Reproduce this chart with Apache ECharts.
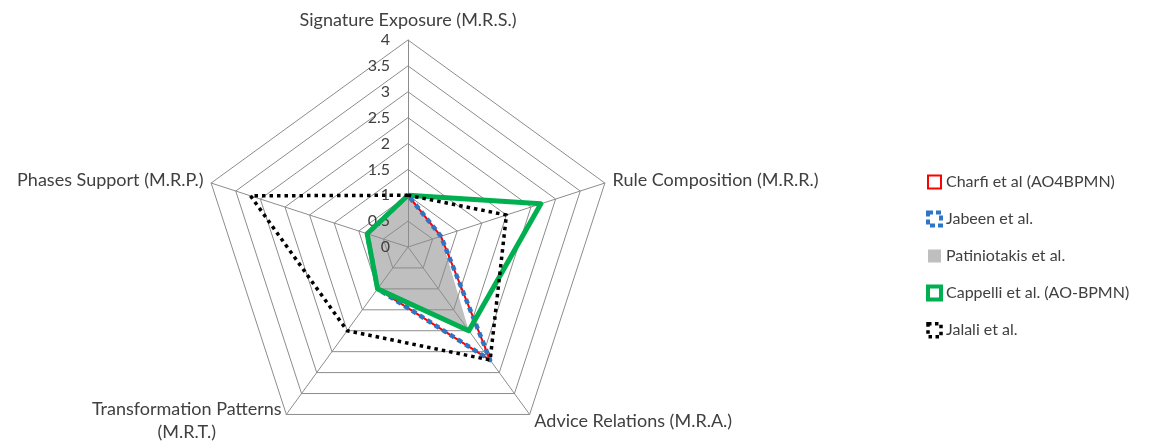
<!DOCTYPE html>
<html><head><meta charset="utf-8">
<script src="https://cdn.jsdelivr.net/npm/echarts@6/dist/echarts.min.js"></script>
<style>html,body{margin:0;padding:0;background:#fff}#c{width:1166px;height:446px}</style>
</head><body><div id="c"></div>
<script>
// values listed clockwise from the top, as in the picture
var indicators = ['Signature Exposure (M.R.S.)','Rule Composition (M.R.R.)','Advice Relations (M.R.A.)','Transformation Patterns\n(M.R.T.)','Phases Support (M.R.P.)'];
var seriesNames = ['Charfi et al (AO4BPMN)','Jabeen et al.','Patiniotakis et al.','Cappelli et al. (AO-BPMN)','Jalali et al.'];
var charfi = [1, 0.67, 2.7, 1, 0.83];
var jabeen = [1, 0.67, 2.7, 1, 0.83];
var patiniotakis = [1, 0.67, 2, 1, 0.83];
var cappelli = [1, 2.7, 2, 1, 0.83];
var jalali = [1, 2, 2.7, 2, 3.2];
var axisMax = 4;
var axisSplits = 8;

// ECharts radar runs counter-clockwise: reorder so the picture reads clockwise
var order = [0, 4, 3, 2, 1];
function cw(arr){ return order.map(function(i){ return arr[i]; }); }

var font = 'Lato';
var txt = '#404040';
var chart = echarts.init(document.getElementById('c'));
var ind = cw(indicators).map(function(n, i){
  var o = {name: n, min: 0, max: axisMax};
  if (i !== 0) o.axisLabel = {show: false};
  return o;
});
function ser(name, data, z, lineStyle, areaStyle){
  return {type:'radar', name:name, z:z, symbol:'none', silent:true,
    data:[{value:cw(data), name:name}],
    lineStyle: lineStyle, areaStyle: areaStyle};
}
chart.setOption({
  animation:false,
  textStyle:{fontFamily:font},
  legend:{
    orient:'vertical', left:921, top:169, itemGap:20.5, itemWidth:13, itemHeight:13,
    textStyle:{fontFamily:font, fontSize:16, color:txt},
    data:[
      {name:seriesNames[0], icon:'rect', itemStyle:{color:'#fff', borderColor:'#FF0000', borderWidth:2}},
      {name:seriesNames[1], icon:'rect', itemStyle:{color:'#fff', borderColor:'#2E75C6', borderWidth:4, borderType:[5,3]}},
      {name:seriesNames[2], icon:'rect', itemStyle:{color:'#BFBFBF', borderWidth:0}},
      {name:seriesNames[3], icon:'rect', itemStyle:{color:'#fff', borderColor:'#00B050', borderWidth:4}},
      {name:seriesNames[4], icon:'rect', itemStyle:{color:'#fff', borderColor:'#000', borderWidth:3.5, borderType:[3.5,3.5]}}
    ]
  },
  radar:{
    z:1,
    center:[408,247], radius:207, shape:'polygon', splitNumber:axisSplits,
    startAngle:90,
    indicator:ind,
    axisName:{
      color:txt, fontSize:18, fontFamily:font,
      formatter:function(n){ return n.split('\n').map(function(l){ return '{c|'+l+'}'; }).join('\n'); },
      rich:{c:{align:'center', fontSize:18, color:txt, fontFamily:font, lineHeight:23}}
    },
    nameGap:8,
    axisLine:{show:true, lineStyle:{color:'#8C8C8C', width:1}},
    splitLine:{lineStyle:{color:'#8C8C8C', width:1}},
    splitArea:{show:false},
    axisTick:{show:false},
    axisLabel:{show:true, color:txt, fontSize:16, fontFamily:font, margin:18}
  },
  series:[
    ser(seriesNames[2], patiniotakis, 0, {width:0, opacity:0}, {color:'#BFBFBF', opacity:1}),
    ser(seriesNames[0], charfi, 2, {color:'#FF0000', width:2}),
    ser(seriesNames[1], jabeen, 3, {color:'#2E75C6', width:4.5, type:[5,4]}),
    ser(seriesNames[3], cappelli, 4, {color:'#00B050', width:5}),
    ser(seriesNames[4], jalali, 5, {color:'#000', width:3.5, type:[3.5,4]})
  ]
});
</script></body></html>
